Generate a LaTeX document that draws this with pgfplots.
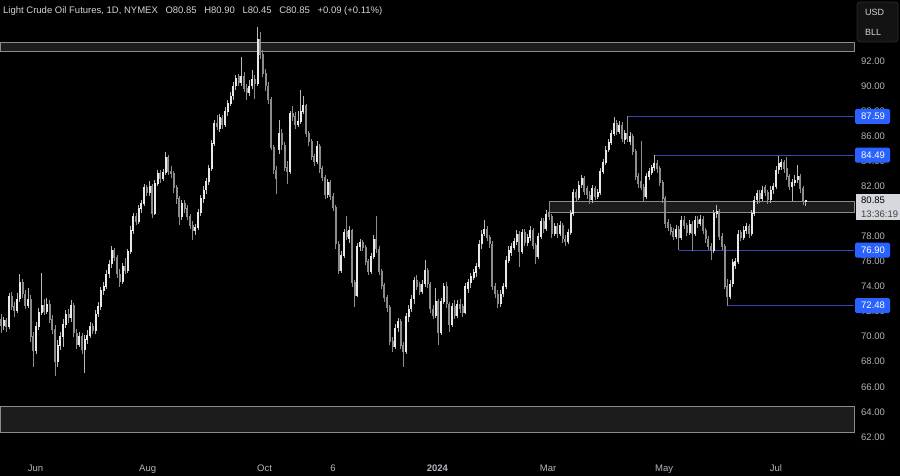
\documentclass[border=0pt]{standalone}
\usepackage{fontspec}
\setmainfont{Liberation Sans}
\usepackage{pgfplots}
\pgfplotsset{compat=1.18}
\usepackage{pgfplotstable}
\definecolor{upc}{HTML}{E8E8E8}
\definecolor{upw}{HTML}{B8B8B8}
\definecolor{dnc}{HTML}{8C8C8C}
\definecolor{tickc}{HTML}{B2B5BE}
\definecolor{titlec}{HTML}{D1D4DC}
\definecolor{tvblue}{HTML}{2962FF}
\definecolor{lvl}{HTML}{3A46B4}
\definecolor{zonel}{HTML}{8C8C8C}
\definecolor{zonef}{HTML}{1C1C1C}
\definecolor{pricebg}{HTML}{D6D8DE}
\definecolor{boxf}{HTML}{131313}
\definecolor{boxl}{HTML}{2A2A2A}
\pgfplotsset{
  wick/.style={draw=none, mark=none, forget plot,
    error bars/.cd, y dir=both, y explicit, error mark=none,
    error bar style={draw=#1, line width=0.85pt, line cap=butt}, /pgfplots/.cd},
  body/.style={draw=none, mark=none, forget plot,
    error bars/.cd, y dir=both, y explicit, error mark=none,
    error bar style={draw=#1, line width=2.0pt, line cap=butt}, /pgfplots/.cd},
}
\pgfplotstableread{
k o h l c
0 71.4 71.8 70.3 70.9
1 70.9 71.6 70.5 71.3
2 71.3 71.5 70.4 70.8
3 70.8 73.5 70.6 73.2
4 73.2 73.6 72.1 72.4
5 72.4 72.8 71.6 72.1
6 72.1 73.5 71.9 73.0
7 73.0 75.0 72.8 74.3
8 74.3 74.6 73.1 73.4
9 73.4 73.7 72.2 72.5
10 72.5 73.9 72.3 73.0
11 73.0 73.3 69.6 70.0
12 70.0 70.4 67.6 68.9
13 68.9 71.2 68.6 70.8
14 70.8 72.3 70.5 71.9
15 71.9 75.1 71.7 72.5
16 72.5 73.0 71.7 72.0
17 72.0 73.1 71.8 72.6
18 72.6 72.9 71.1 71.4
19 71.4 71.7 70.2 70.6
20 70.6 70.9 66.9 68.0
21 68.0 69.7 67.6 69.3
22 69.3 70.4 68.9 70.0
23 70.0 71.4 69.2 71.0
24 71.0 72.1 70.7 71.8
25 71.8 72.2 71.1 71.5
26 71.5 72.9 71.2 72.5
27 72.5 72.7 70.0 70.3
28 70.3 70.6 69.0 69.4
29 69.4 70.4 69.2 70.0
30 70.0 70.3 68.6 69.0
31 69.0 70.1 67.1 69.8
32 69.8 70.5 69.4 70.1
33 70.1 71.2 69.9 70.8
34 70.8 71.1 70.2 70.5
35 70.5 72.1 70.2 71.8
36 71.8 72.8 71.6 72.4
37 72.4 74.0 72.1 73.7
38 73.7 74.4 73.3 74.0
39 74.0 75.3 73.8 75.0
40 75.0 76.1 74.7 75.8
41 75.8 77.2 75.5 76.9
42 76.9 77.1 76.0 76.3
43 76.3 76.5 74.7 75.0
44 75.0 75.4 74.0 74.4
45 74.4 75.9 74.2 75.6
46 75.6 76.3 75.0 75.3
47 75.3 77.0 75.1 76.8
48 76.8 78.8 76.6 78.5
49 78.5 79.9 78.2 79.6
50 79.6 79.9 78.9 79.2
51 79.2 80.5 79.0 80.2
52 80.2 80.9 79.9 80.6
53 80.6 82.2 80.4 81.9
54 81.9 82.1 81.2 81.5
55 81.5 82.4 81.2 82.0
56 82.0 82.2 79.5 79.8
57 79.8 82.5 79.7 82.2
58 82.2 83.3 82.0 83.0
59 83.0 83.3 82.3 82.6
60 82.6 83.4 82.4 83.1
61 83.1 84.7 82.9 84.3
62 84.3 84.5 82.9 83.2
63 83.2 83.6 82.7 83.0
64 83.0 83.2 81.5 81.9
65 81.9 82.1 80.6 81.0
66 81.0 81.2 78.9 79.6
67 79.6 80.9 79.3 80.6
68 80.6 80.9 79.9 80.2
69 80.2 80.5 79.3 79.6
70 79.6 79.8 78.6 78.9
71 78.9 79.2 77.7 78.5
72 78.5 79.0 78.1 78.7
73 78.7 80.2 78.5 79.9
74 79.9 81.3 79.6 81.0
75 81.0 82.0 80.7 81.7
76 81.7 82.7 81.4 82.4
77 82.4 83.7 82.1 83.4
78 83.4 85.7 83.2 85.4
79 85.4 87.3 85.2 87.0
80 87.0 87.7 86.5 86.8
81 86.6 87.8 86.3 87.5
82 87.4 87.7 86.6 86.9
83 86.9 88.3 86.7 88.0
84 88.0 88.9 87.6 88.6
85 88.6 89.5 88.4 89.2
86 89.2 90.3 88.9 90.0
87 90.0 90.9 89.7 90.6
88 90.8 91.0 90.0 90.3
89 90.3 92.3 90.0 90.8
90 90.8 91.1 89.5 89.8
91 89.8 90.2 88.9 89.5
92 89.5 90.5 89.2 90.0
93 90.0 91.3 89.8 90.5
94 90.5 90.9 89.0 90.2
95 90.2 94.7 90.0 93.7
96 93.7 94.3 92.2 92.5
97 92.5 92.9 90.7 91.0
98 91.0 91.4 89.6 90.0
99 90.0 90.3 88.6 88.9
100 88.9 89.1 84.9 85.1
101 85.1 85.3 83.0 83.3
102 83.3 83.6 81.4 82.6
103 84.9 87.3 84.6 86.2
104 86.2 86.6 84.9 85.3
105 85.3 85.5 83.2 83.5
106 83.5 84.0 82.2 83.2
107 83.2 88.0 83.0 87.8
108 87.8 88.4 87.2 87.6
109 87.6 87.9 86.6 86.9
110 86.9 88.0 86.7 87.2
111 87.2 89.7 87.0 88.0
112 88.0 89.2 87.8 88.5
113 88.5 88.6 85.9 86.2
114 86.2 86.4 85.2 85.6
115 85.6 85.8 84.1 84.4
116 84.4 84.6 83.6 84.0
117 84.0 85.6 83.8 85.2
118 85.2 85.4 83.1 83.4
119 83.4 83.6 82.4 82.7
120 82.7 82.9 81.0 81.3
121 81.3 82.6 81.1 82.3
122 82.3 82.5 80.9 81.2
123 81.2 81.5 80.0 80.3
124 80.3 80.5 77.0 77.4
125 77.4 77.6 75.0 75.3
126 75.3 76.8 75.1 76.5
127 76.5 78.6 76.3 78.3
128 78.4 79.6 77.7 78.0
129 77.8 78.8 77.5 78.5
130 78.5 78.6 74.0 74.3
131 74.3 74.5 72.4 73.3
132 73.3 77.5 73.2 77.2
133 77.2 77.8 76.8 77.5
134 77.5 77.7 76.8 77.1
135 77.1 77.3 75.7 76.0
136 76.0 76.2 74.9 75.2
137 75.2 76.7 75.0 76.4
138 76.4 78.1 76.2 77.8
139 77.8 79.6 76.7 77.0
140 77.0 77.2 74.9 75.2
141 75.2 75.4 73.8 74.1
142 74.1 74.3 72.8 73.1
143 73.1 73.3 72.0 72.3
144 72.3 72.5 69.3 69.6
145 69.6 70.0 68.8 69.2
146 69.2 71.0 69.0 70.7
147 70.7 71.5 70.4 71.2
148 71.2 71.4 69.0 69.3
149 69.3 69.6 67.6 68.8
150 68.8 71.9 68.6 71.6
151 71.6 72.5 71.2 72.2
152 72.2 73.3 72.0 73.0
153 73.0 74.8 72.6 74.5
154 74.5 74.9 73.7 74.0
155 74.2 74.4 73.3 73.6
156 73.6 74.5 73.4 74.2
157 74.2 76.1 74.0 75.3
158 75.3 75.5 73.9 74.2
159 74.2 74.4 71.9 72.2
160 72.2 72.5 71.4 71.7
161 71.7 73.9 71.5 72.8
162 72.8 73.0 69.3 70.3
163 70.3 73.1 70.1 72.8
164 72.8 74.3 72.6 74.0
165 74.0 74.4 72.3 72.6
166 72.6 72.8 70.4 71.0
167 71.0 72.7 70.8 72.4
168 72.4 72.9 71.4 71.7
169 71.7 72.9 71.5 72.6
170 72.6 73.0 71.9 72.2
171 72.4 72.6 71.6 71.9
172 71.9 74.3 71.8 74.0
173 73.8 74.6 73.5 74.3
174 74.3 75.1 73.9 74.8
175 74.7 75.4 74.5 75.1
176 75.1 75.9 74.8 75.6
177 75.6 77.7 75.4 77.4
178 77.4 78.5 77.0 78.2
179 78.2 79.3 78.0 78.6
180 78.6 78.8 77.6 77.9
181 77.9 78.1 77.1 77.4
182 77.4 77.6 73.7 74.0
183 74.0 74.3 73.1 73.4
184 73.4 73.7 72.3 72.6
185 72.6 73.7 72.4 73.4
186 73.4 74.3 73.2 74.0
187 74.0 76.4 73.8 76.1
188 76.1 77.2 75.9 76.9
189 76.7 77.5 76.4 77.2
190 77.1 77.9 76.9 77.6
191 77.6 78.5 77.3 78.2
192 78.2 78.4 75.6 76.8
193 76.8 78.6 76.6 78.3
194 78.3 78.6 77.2 77.5
195 77.5 78.2 77.2 77.9
196 77.9 78.8 77.6 78.5
197 78.5 78.7 77.0 77.3
198 77.3 77.5 75.8 76.4
199 76.4 78.3 76.2 78.0
200 78.0 79.5 77.8 79.2
201 79.2 79.5 78.3 78.6
202 78.6 80.1 78.4 79.8
203 79.9 80.8 79.3 79.6
204 79.6 79.8 77.9 78.2
205 78.2 79.1 78.0 78.8
206 78.8 79.1 77.9 78.2
207 78.2 79.2 78.0 78.9
208 78.9 79.1 77.5 77.8
209 77.8 78.1 77.2 77.6
210 77.6 78.6 77.4 78.3
211 78.3 80.1 78.1 79.8
212 79.8 81.8 79.6 81.5
213 81.5 81.8 80.8 81.1
214 81.1 82.4 80.9 82.1
215 82.1 82.9 81.9 82.6
216 82.6 82.8 81.3 81.6
217 81.8 82.0 81.0 81.3
218 81.3 81.6 80.6 80.9
219 80.9 82.1 80.7 81.8
220 81.8 82.0 80.9 81.2
221 81.2 81.8 81.0 81.5
222 81.5 83.5 81.3 83.2
223 83.2 84.2 83.0 83.9
224 83.9 85.2 83.7 84.9
225 84.9 85.8 84.7 85.5
226 85.5 86.5 85.3 86.2
227 86.2 87.5 86.0 87.0
228 87.0 87.3 86.1 86.4
229 86.4 87.2 86.2 86.9
230 86.9 87.1 85.5 85.8
231 85.7 86.5 85.4 86.2
232 86.2 87.59 85.5 85.8
233 85.6 86.3 85.3 86.0
234 86.0 86.2 84.5 84.8
235 84.8 85.0 82.5 82.8
236 82.8 83.1 81.9 82.2
237 82.4 85.6 81.7 81.9
238 81.9 82.2 80.8 81.2
239 81.2 83.1 81.0 82.8
240 82.8 83.5 82.5 83.2
241 83.1 83.7 82.9 83.5
242 83.5 84.49 83.2 83.8
243 83.8 84.1 83.1 83.4
244 83.4 83.6 82.0 82.3
245 82.3 82.5 80.7 81.0
246 81.0 81.2 78.7 79.0
247 79.1 79.4 78.4 78.7
248 78.7 79.0 78.1 78.4
249 78.4 78.7 77.7 78.0
250 78.0 78.9 77.8 78.6
251 78.6 78.8 76.90 77.9
252 77.9 79.6 77.7 79.3
253 79.3 79.6 78.6 78.9
254 78.9 79.1 78.0 78.3
255 78.3 79.3 78.1 79.0
256 79.0 79.2 76.8 78.2
257 78.2 79.6 78.0 79.3
258 79.3 79.6 78.7 79.0
259 79.0 79.7 78.8 79.4
260 79.4 79.6 78.2 78.5
261 78.5 78.7 77.5 77.8
262 77.8 78.0 76.9 77.2
263 77.2 77.5 76.1 76.9
264 76.9 80.1 76.7 79.8
265 79.8 80.5 79.5 80.0
266 80.0 80.2 77.7 78.0
267 78.0 78.3 76.9 77.2
268 77.2 77.4 73.8 74.0
269 74.0 74.6 72.48 73.2
270 73.2 74.5 73.0 74.2
271 74.2 76.2 74.0 75.9
272 75.7 76.3 75.4 76.0
273 76.0 78.5 75.8 78.2
274 78.3 78.5 77.6 77.9
275 77.9 78.8 77.7 78.5
276 78.5 79.1 78.2 78.8
277 78.8 79.0 77.9 78.2
278 78.2 80.1 78.0 79.8
279 79.8 81.2 79.6 80.9
280 80.9 81.7 80.6 81.4
281 81.4 81.7 80.7 81.0
282 81.0 82.0 80.8 81.7
283 81.9 82.1 81.2 81.5
284 81.5 81.7 80.6 80.9
285 80.9 82.0 80.7 81.7
286 81.7 82.3 81.4 82.0
287 82.0 83.6 81.8 83.3
288 83.3 84.4 83.0 83.8
289 83.6 84.2 83.3 83.9
290 83.9 84.1 83.1 83.4
291 83.4 84.3 82.5 82.8
292 82.8 83.0 81.7 82.0
293 82.0 82.6 80.8 82.3
294 82.3 82.9 82.0 82.5
295 82.5 83.7 82.3 82.8
296 82.8 83.0 81.5 81.8
297 81.8 82.0 80.5 80.76
298 80.85 80.90 80.45 80.85
}\candles
\begin{document}
\begin{tikzpicture}
\useasboundingbox (0,0) rectangle (900pt,476pt);
\fill[black] (0,0) rectangle (900pt,476pt);
\begin{axis}[
  at={(0pt,0pt)}, anchor=south west,
  scale only axis, width=854pt, height=476pt,
  xmin=-0.37, xmax=315.9,
  ymin=58.88, ymax=96.87,
  axis line style={draw=none},
  major tick length=0pt,
  clip mode=individual,
  tick label style={font=\fontsize{9.5}{11}\selectfont, text=tickc},
  xtick={12.8,54.3,97.6,123,161.6,202.6,245.6,287},
  xticklabels={Jun,Aug,Oct,6,\textbf{2024},Mar,May,Jul},
  xticklabel style={anchor=base, yshift=4.5pt},
  ytick={62,64,...,92},
  yticklabel pos=right,
  yticklabel style={anchor=west, xshift=7pt, inner sep=0pt},
  /pgf/number format/assume math mode=true,
  yticklabel={\pgfmathprintnumber[fixed,fixed zerofill,precision=2]{\tick}},
]
% zones
\draw[zonel, fill=zonef, line width=0.8pt] (axis cs:-0.37,92.77) rectangle (axis cs:315.9,93.46);
\draw[zonel, fill=zonef, line width=0.8pt] (axis cs:203,79.89) rectangle (axis cs:315.9,80.83);
\draw[zonel, fill=zonef, line width=0.8pt] (axis cs:-0.37,62.37) rectangle (axis cs:315.9,64.41);
% level lines
\draw[lvl, line width=1pt] (axis cs:232,87.59) -- (axis cs:315.9,87.59);
\draw[lvl, line width=1pt] (axis cs:242,84.49) -- (axis cs:315.9,84.49);
\draw[lvl, line width=1pt] (axis cs:251,76.90) -- (axis cs:315.9,76.90);
\draw[lvl, line width=1pt] (axis cs:269,72.48) -- (axis cs:315.9,72.48);
% wicks (down, then up)
\addplot[restrict expr to domain={\thisrow{c}-\thisrow{o}}{-50:-0.0001}, wick=dnc]
  table[x=k, y expr={(\thisrow{h}+\thisrow{l})/2}, y error expr={(\thisrow{h}-\thisrow{l})/2}] {\candles};
\addplot[restrict expr to domain={\thisrow{c}-\thisrow{o}}{0:50}, wick=upw]
  table[x=k, y expr={(\thisrow{h}+\thisrow{l})/2}, y error expr={(\thisrow{h}-\thisrow{l})/2}] {\candles};
% bodies
\addplot[restrict expr to domain={\thisrow{c}-\thisrow{o}}{-50:-0.0001}, body=dnc]
  table[x=k, y expr={(\thisrow{o}+\thisrow{c})/2}, y error expr={abs(\thisrow{c}-\thisrow{o})/2+0.03}] {\candles};
\addplot[restrict expr to domain={\thisrow{c}-\thisrow{o}}{0:50}, body=upc]
  table[x=k, y expr={(\thisrow{o}+\thisrow{c})/2}, y error expr={abs(\thisrow{c}-\thisrow{o})/2+0.03}] {\candles};
\end{axis}
% title
\node[anchor=west, inner sep=0pt, text=titlec, font=\fontsize{9.5}{11}\selectfont] at (3pt,465pt)
  {Light Crude Oil Futures, 1D, NYMEX\hspace{5pt} O80.85\hspace{5pt} H80.90\hspace{5pt} L80.45\hspace{5pt} C80.85\hspace{5pt} +0.09 (+0.11\%)};
% currency box
\draw[boxl, fill=boxf, rounded corners=3pt, line width=0.8pt] (857pt,434pt) rectangle (898pt,474pt);
\node[anchor=west, inner sep=0pt, text=titlec, font=\fontsize{9}{11}\selectfont] at (865pt,464pt) {USD};
\node[anchor=west, inner sep=0pt, text=titlec, font=\fontsize{9}{11}\selectfont] at (865pt,444pt) {BLL};
% price labels
\foreach \yy/\txt in {359.7/87.59, 320.9/84.49, 225.8/76.90, 170.4/72.48}{
  \fill[tvblue, rounded corners=1.5pt] (855pt,\yy pt-7.5pt) rectangle (890pt,\yy pt+7.5pt);
  \node[anchor=west, inner sep=0pt, text=white, font=\fontsize{9.5}{11}\selectfont] at (861pt,\yy pt) {\txt};
}
\fill[pricebg] (856pt,256pt) rectangle (900pt,282pt);
\node[anchor=west, inner sep=0pt, text=black, font=\fontsize{9.5}{11}\selectfont] at (861pt,275.3pt) {80.85};
\node[anchor=west, inner sep=0pt, text=black!75, font=\fontsize{9.5}{11}\selectfont] at (861pt,262pt) {13:36:19};
\end{tikzpicture}
\end{document}
